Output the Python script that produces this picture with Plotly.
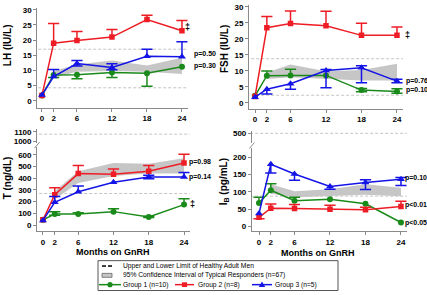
import plotly.graph_objects as go

W, H = 427, 295

# ---------------- data ----------------
months = [0, 2, 6, 12, 18, 24]
band_months = [2, 6, 12, 18, 24]
tick_months = [0, 2, 6, 12, 18, 24]

# LH (IU/L)
lh_g1 = [1.8, 8.5, 8.6, 9.3, 9.1, 11.2]
lh_g1_plus = [0, 0, 0, 0, 0, 0]
lh_g1_minus = [0, 0.8, 1.3, 1.6, 4.3, 0]
lh_g2 = [1.8, 19.0, 19.9, 21.0, 26.8, 23.1]
lh_g2_plus = [0, 6.5, 2.9, 2.5, 1.4, 3.4]
lh_g2_minus = [0, 0, 0, 0, 0, 0]
lh_g3 = [1.9, 8.0, 12.3, 11.0, 14.7, 14.5]
lh_g3_plus = [0, 2.3, 1.0, 1.2, 2.3, 5.0]
lh_g3_minus = [0, 0, 0.8, 0.8, 0, 0]
lh_band_lo = [7.6, 9.6, 9.8, 9.6, 8.8]
lh_band_hi = [9.8, 12.0, 13.3, 11.6, 14.2]
lh_limits = [4.3, 17.0]

# FSH (IU/L)
fsh_g1 = [2.2, 8.5, 8.6, 8.6, 4.0, 3.6]
fsh_g1_plus = [0, 1.5, 1.9, 0, 0.5, 0.8]
fsh_g1_minus = [0, 0, 0, 0, 0.5, 0.6]
fsh_g2 = [2.0, 23.5, 24.8, 24.1, 21.1, 21.1]
fsh_g2_plus = [0, 3.5, 3.9, 4.5, 3.8, 2.6]
fsh_g2_minus = [0, 0, 0, 0, 0, 0]
fsh_g3 = [1.8, 4.3, 6.0, 10.1, 11.0, 6.8]
fsh_g3_plus = [0, 0, 0, 0.3, 0.6, 0.6]
fsh_g3_minus = [0, 1.5, 1.7, 5.4, 4.7, 0.5]
fsh_band_lo = [7.5, 8.0, 7.4, 7.0, 7.0]
fsh_band_hi = [9.5, 12.0, 9.9, 10.3, 12.2]
fsh_limits = [2.4, 13.8]

# T (ng/dL)
t_g1 = [45, 95, 95, 115, 70, 175]
t_g1_plus = [0, 20, 10, 25, 5, 50]
t_g1_minus = [0, 10, 0, 0, 5, 0]
t_g2 = [45, 260, 440, 435, 460, 530]
t_g2_plus = [0, 60, 70, 45, 50, 75]
t_g2_minus = [0, 0, 0, 0, 0, 0]
t_g3 = [40, 195, 285, 365, 410, 410]
t_g3_plus = [0, 50, 50, 0, 15, 40]
t_g3_minus = [0, 0, 0, 0, 15, 0]
t_band_lo = [220, 360, 420, 440, 440]
t_band_hi = [290, 460, 530, 525, 570]
t_limits = [270, 1075]

# Inhibin B (pg/mL)
ib_g1 = [68, 105, 75, 79, 66, 12]
ib_g1_plus = [17, 19, 10, 0, 0, 0]
ib_g1_minus = [0, 0, 0, 0, 0, 0]
ib_g2 = [27, 53, 52, 50, 49, 58]
ib_g2_plus = [0, 12, 12, 12, 7, 15]
ib_g2_minus = [4, 0, 0, 0, 0, 0]
ib_g3 = [38, 180, 152, 116, 127, 137]
ib_g3_plus = [0, 0, 0, 0, 8, 5]
ib_g3_minus = [0, 25, 18, 8, 20, 18]
ib_band_lo = [95, 85, 88, 92, 88]
ib_band_hi = [122, 102, 108, 122, 112]
ib_limits = [88, 500]

# p-value labels: (text, y value)
lh_pvals = [("p=0.50", 15.4), ("p=0.30", 11.4)]
lh_dagger = 24.2
fsh_pvals = [("p=0.76", 6.8), ("p=0.10", 3.9)]
fsh_dagger = 21.3
t_pvals = [("p=0.98", 540), ("p=0.14", 413)]
t_dagger = 181
ib_pvals = [("p=0.10", 139), ("p<0.01", 61), ("p<0.05", 11)]

legend_labels = ["Upper and Lower Limit of Healthy Adult Men",
                 "95% Confidence Interval of Typical Responders (n=67)",
                 "Group 1 (n=10)", "Group 2 (n=8)", "Group 3 (n=5)"]

# ---------------- style ----------------
FONT = "Liberation Sans, Arial, sans-serif"
GREEN = "#1a8a1a"
RED = "#ee1c24"
BLUE = "#1414e6"
BAND = "#c6c6c6"
DASH = "#c4c4c4"
AXIS = "#8a8a8a"


def px(x):
    return x / W


def py(y):
    return 1 - y / H


fig = go.Figure()

series_style = [
    (GREEN, "circle", 6),
    (RED, "square", 5.5),
    (BLUE, "triangle-up", 7),
]


def add_panel(xa, ya, ya_top, groups, band_lo, band_hi, limits, xmax):
    fig.add_trace(go.Scatter(
        x=band_months + band_months[::-1], y=band_hi + band_lo[::-1],
        fill="toself", fillcolor=BAND, line=dict(width=0), mode="lines",
        xaxis=xa, yaxis=ya, hoverinfo="skip", showlegend=False))
    for i, lim in enumerate(limits):
        yy = ya if (ya_top is None or i == 0) else ya_top
        fig.add_trace(go.Scatter(
            x=[-1.5, xmax], y=[lim, lim], mode="lines",
            line=dict(color=DASH, width=1, dash="3px,2px"),
            xaxis=xa, yaxis=yy, hoverinfo="skip", showlegend=False))
    for (vals, plus, minus), (col, sym, sz) in zip(groups, series_style):
        ex, ey, cx, cy = [], [], [], []
        for m, v, p, n in zip(months, vals, plus, minus):
            if p > 0:
                ex += [m, m, None]
                ey += [v, v + p, None]
                cx.append(m)
                cy.append(v + p)
            if n > 0:
                ex += [m, m, None]
                ey += [v, v - n, None]
                cx.append(m)
                cy.append(v - n)
        fig.add_trace(go.Scatter(
            x=ex, y=ey, mode="lines", line=dict(color=col, width=1.5),
            xaxis=xa, yaxis=ya, hoverinfo="skip", showlegend=False,
            connectgaps=False))
        fig.add_trace(go.Scatter(
            x=cx, y=cy, mode="markers",
            marker=dict(symbol="line-ew", size=8, line=dict(color=col, width=1.5)),
            xaxis=xa, yaxis=ya, hoverinfo="skip", showlegend=False))
        fig.add_trace(go.Scatter(
            x=months, y=vals, mode="lines+markers",
            line=dict(color=col, width=1.5),
            marker=dict(symbol=sym, size=sz, color=col),
            xaxis=xa, yaxis=ya, showlegend=False))


add_panel("x", "y", None,
          [(lh_g1, lh_g1_plus, lh_g1_minus), (lh_g2, lh_g2_plus, lh_g2_minus),
           (lh_g3, lh_g3_plus, lh_g3_minus)],
          lh_band_lo, lh_band_hi, lh_limits, 25)
add_panel("x2", "y2", None,
          [(fsh_g1, fsh_g1_plus, fsh_g1_minus), (fsh_g2, fsh_g2_plus, fsh_g2_minus),
           (fsh_g3, fsh_g3_plus, fsh_g3_minus)],
          fsh_band_lo, fsh_band_hi, fsh_limits, 25)
add_panel("x3", "y3", "y4",
          [(t_g1, t_g1_plus, t_g1_minus), (t_g2, t_g2_plus, t_g2_minus),
           (t_g3, t_g3_plus, t_g3_minus)],
          t_band_lo, t_band_hi, t_limits, 25)
add_panel("x4", "y5", "y6",
          [(ib_g1, ib_g1_plus, ib_g1_minus), (ib_g2, ib_g2_plus, ib_g2_minus),
           (ib_g3, ib_g3_plus, ib_g3_minus)],
          ib_band_lo, ib_band_hi, ib_limits, 25)

tickfont = dict(family=FONT, size=8, color="black", weight="bold")


def xaxis(dom, rng, anchor):
    return dict(domain=dom, range=rng, anchor=anchor, tickvals=tick_months,
                showline=True, linecolor=AXIS, linewidth=1, ticks="outside",
                ticklen=3, tickcolor=AXIS, showgrid=False, zeroline=False,
                tickfont=tickfont, fixedrange=True)


def yaxis(dom, rng, anchor, tv):
    return dict(domain=dom, range=rng, anchor=anchor, tickvals=tv,
                showline=True, linecolor=AXIS, linewidth=1, ticks="outside",
                ticklen=3, tickcolor=AXIS, showgrid=False, zeroline=False,
                tickfont=tickfont, fixedrange=True)


layout = dict(
    width=W, height=H, autosize=False, margin=dict(l=0, r=0, t=0, b=0),
    paper_bgcolor="white", plot_bgcolor="white", showlegend=False,
    font=dict(family=FONT, color="black"),
    xaxis=xaxis([px(37.3), px(187.8)], [-0.8, 25], "y"),
    yaxis=yaxis([py(107), py(5.5)], [-2.3, 30.45], "x", [0, 5, 10, 15, 20, 25, 30]),
    xaxis2=xaxis([px(249.1), px(402.9)], [-1, 25], "y2"),
    yaxis2=yaxis([py(108), py(2)], [-1.84, 30.6], "x2", [0, 5, 10, 15, 20, 25, 30]),
    xaxis3=xaxis([px(37.1), px(189.9)], [-1, 25], "y3"),
    yaxis3=yaxis([py(233), py(147)], [-52.7, 667], "x3", [0, 100, 200, 300, 400, 500, 600]),
    yaxis4=yaxis([py(143), py(129)], [979, 1126], "x3", [1000, 1100]),
    xaxis4=xaxis([px(251.9), px(406.9)], [-1.2, 25], "y5"),
    yaxis5=yaxis([py(233), py(148)], [-13.3, 226.8], "x4", [0, 50, 100, 150, 200]),
    yaxis6=yaxis([py(143), py(131)], [471.8, 505.6], "x4", [500]),
)
fig.update_layout(**layout)

ann = []


def paper_text(x, y, text, font, angle=0, xanchor="center"):
    ann.append(dict(x=px(x), y=py(y), xref="paper", yref="paper", text=text,
                    textangle=angle, showarrow=False, font=font,
                    xanchor=xanchor, yanchor="middle", borderpad=0))


titlefont = dict(family=FONT, size=10, color="black", weight="bold")
paper_text(7, 43, "LH (IU/L)", titlefont, -90)
paper_text(224, 47, "FSH (IU/L)", titlefont, -90)
paper_text(7, 179, "T (ng/dL)", titlefont, -90)
paper_text(224, 183, "I<sub>B</sub> (pg/mL)", titlefont, -90)
xtfont = dict(family=FONT, size=9, color="black", weight="bold")
paper_text(113, 254, "Months on GnRH", xtfont)
paper_text(318, 255, "Months on GnRH", xtfont)

pfont = dict(family=FONT, size=7, color="black", weight="bold")
dfont = dict(family=FONT, size=9, color="black", weight="bold")


def add_p(xa, ya, pvals, shift, dagger=None, dshift=0, last=24):
    for txt, yv in pvals:
        ann.append(dict(x=last, y=yv, xref=xa, yref=ya, text=txt, showarrow=False,
                        xanchor="left", yanchor="middle", xshift=shift, font=pfont,
                        borderpad=0))
    if dagger is not None:
        ann.append(dict(x=last, y=dagger, xref=xa, yref=ya, text="‡", showarrow=False,
                        xanchor="center", yanchor="middle", xshift=dshift, font=dfont,
                        borderpad=0))


add_p("x", "y", lh_pvals, 11, lh_dagger, 6)
add_p("x2", "y2", fsh_pvals, 8, fsh_dagger, 11)
add_p("x3", "y3", t_pvals, 4, t_dagger, 8)
add_p("x4", "y5", ib_pvals, 3)

# legend (drawn manually)
lfont = dict(family=FONT, size=6.7, color="black")
rows = [268.5, 278, 287.5]
paper_text(122, rows[0], legend_labels[0], lfont, xanchor="left")
paper_text(122, rows[1], legend_labels[1], lfont, xanchor="left")
for lx, txt in zip([122, 197, 274], legend_labels[2:]):
    paper_text(lx, rows[2], txt, lfont, xanchor="left")

shapes = []
shapes.append(dict(type="rect", xref="paper", yref="paper", x0=px(98), x1=px(338),
                   y0=py(293.5), y1=py(263), line=dict(color="#555555", width=1),
                   fillcolor="rgba(0,0,0,0)"))
for a, b in [(102, 106), (108, 112)]:
    shapes.append(dict(type="line", xref="paper", yref="paper", x0=px(a), x1=px(b),
                       y0=py(rows[0]), y1=py(rows[0]), line=dict(color="black", width=1.5)))
shapes.append(dict(type="rect", xref="paper", yref="paper", x0=px(102), x1=px(112),
                   y0=py(rows[1] + 2), y1=py(rows[1] - 2), line=dict(color="#666666", width=0.8),
                   fillcolor=BAND))
for (a, b), col in zip([(99, 121), (175, 194), (252, 272)], [GREEN, RED, BLUE]):
    shapes.append(dict(type="line", xref="paper", yref="paper", x0=px(a), x1=px(b),
                       y0=py(rows[2]), y1=py(rows[2]), line=dict(color=col, width=1.5)))
c = 110
shapes.append(dict(type="circle", xref="paper", yref="paper", x0=px(c - 2.6), x1=px(c + 2.6),
                   y0=py(rows[2] + 2.6), y1=py(rows[2] - 2.6), fillcolor=GREEN,
                   line=dict(width=0)))
c = 184.5
shapes.append(dict(type="rect", xref="paper", yref="paper", x0=px(c - 2.6), x1=px(c + 2.6),
                   y0=py(rows[2] + 2.4), y1=py(rows[2] - 2.4), fillcolor=RED,
                   line=dict(width=0)))
c = 262
shapes.append(dict(type="path", xref="paper", yref="paper",
                   path=f"M {px(c-3.2)} {py(rows[2]+2.4)} L {px(c+3.2)} {py(rows[2]+2.4)} "
                        f"L {px(c)} {py(rows[2]-3.2)} Z",
                   fillcolor=BLUE, line=dict(width=0)))

for bx, by in [(37.1, 145), (251.9, 145.5)]:
    shapes.append(dict(type="line", xref="paper", yref="paper", x0=px(bx - 2.5), x1=px(bx + 2.5),
                       y0=py(by + 3), y1=py(by - 3), line=dict(color=AXIS, width=1)))

fig.update_layout(annotations=ann, shapes=shapes)
fig.write_html("out.html",
               config=dict(displayModeBar=False, responsive=False),
               post_script="document.body.style.margin='0';document.body.style.padding='0';"
                           "document.body.style.overflow='hidden';")
